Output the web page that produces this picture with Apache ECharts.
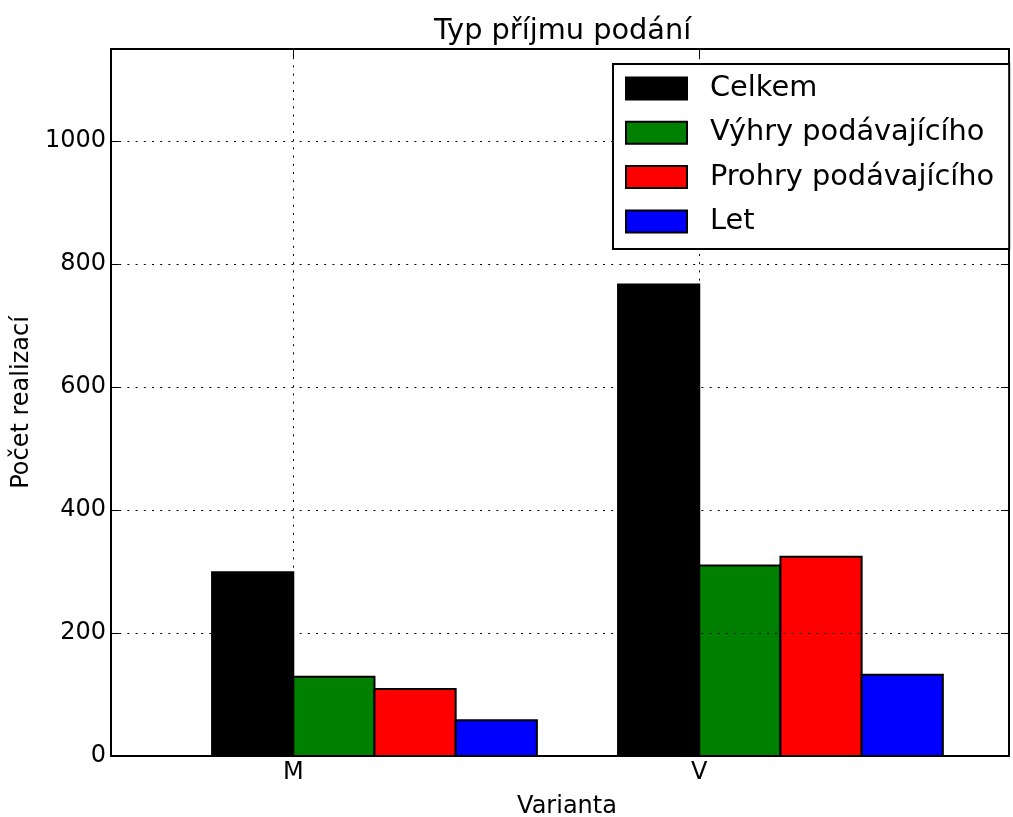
<!DOCTYPE html>
<html>
<head>
<meta charset="utf-8">
<title>Typ příjmu podání</title>
<script src="https://cdn.jsdelivr.net/npm/echarts@6/dist/echarts.min.js"></script>
<style>
  html, body { margin: 0; padding: 0; background: #fff; }
  #chart { width: 1013px; height: 817px; }
</style>
</head>
<body>
<div id="chart"></div>
<script>
// Categories along the x axis
const categories = ['M', 'V'];
// Series names, in legend order
const seriesNames = ['Celkem', 'Výhry podávajícího', 'Prohry podávajícího', 'Let'];
// Values per series, one entry per category
const celkem = [299, 767];
const vyhry = [129, 310];
const prohry = [109, 324];
const letValues = [58, 132];
// Y tick labels
const yTicks = [0, 200, 400, 600, 800, 1000];

const seriesValues = [celkem, vyhry, prohry, letValues];
const seriesColors = ['#000000', '#008000', '#ff0000', '#0000ff'];

const FONT = 'DejaVu Sans';
const BAR_W = 0.2;              // bar width in category units
const BAR_OFFSETS = [-0.2, 0, 0.2, 0.4]; // left edge of each bar relative to tick
const X_MIN = -0.449, X_MAX = 1.763;
const Y_MIN = 0, Y_MAX = 1150;

const chart = echarts.init(document.getElementById('chart'), null, { renderer: 'canvas' });

const catIndex = categories.map((c, i) => i);

function makeSeries(si) {
  return {
    type: 'custom',
    name: seriesNames[si],
    z: 2,
    itemStyle: { color: seriesColors[si], borderColor: '#000', borderWidth: 2 },
    data: seriesValues[si].map((v, i) => [catIndex[i], v]),
    encode: { x: 0, y: 1 },
    renderItem: function (params, api) {
      const x = api.value(0);
      const v = api.value(1);
      const pTop = api.coord([x + BAR_OFFSETS[si], v]);
      const pBot = api.coord([x + BAR_OFFSETS[si] + BAR_W, 0]);
      return {
        type: 'rect',
        shape: {
          x: pTop[0],
          y: pTop[1],
          width: pBot[0] - pTop[0],
          height: pBot[1] - pTop[1]
        },
        style: {
          fill: seriesColors[si],
          stroke: '#000',
          lineWidth: 2
        }
      };
    }
  };
}

const dotted = { color: '#000', width: 1, type: [2, 6.2] };
const axisLine = { show: true, onZero: false, lineStyle: { color: '#000', width: 2 } };
const tick = { show: true, inside: true, length: 8, lineStyle: { color: '#000', width: 1 } };

const option = {
  backgroundColor: '#ffffff',
  animation: false,
  title: {
    text: 'Typ příjmu podání',
    left: 434,
    top: 17,
    padding: 0,
    textStyle: { fontFamily: FONT, fontSize: 28.8, fontWeight: 'normal', color: '#000' }
  },
  grid: { left: 111, right: 4, top: 49, bottom: 61, containLabel: false, outerBoundsMode: 'none' },
  legend: {
    orient: 'vertical',
    left: 613,
    top: 64,
    z: 10,
    padding: [10, 15, 13, 12],
    itemWidth: 61,
    itemHeight: 22,
    itemGap: 15.3,
    icon: 'rect',
    borderColor: '#000',
    borderWidth: 2,
    borderRadius: 0,
    backgroundColor: '#fff',
    itemStyle: { borderColor: '#000', borderWidth: 2 },
    textStyle: { fontFamily: FONT, fontSize: 28.8, color: '#000', padding: [0, 0, 0, 18] },
    data: seriesNames
  },
  xAxis: [
    {
      type: 'value',
      position: 'bottom',
      min: X_MIN,
      max: X_MAX,
      z: 5,
      name: 'Varianta',
      nameLocation: 'middle',
      nameGap: 39,
      nameTextStyle: { fontFamily: FONT, fontSize: 24, color: '#000', padding: [0, 0, 0, 14] },
      axisLine: axisLine,
      axisTick: Object.assign({}, tick, { customValues: catIndex }),
      axisLabel: {
        customValues: catIndex,
        margin: 5,
        fontFamily: FONT, fontSize: 24, color: '#000',
        formatter: v => categories[Math.round(v)]
      },
      splitLine: { show: true, lineStyle: dotted }
    },
    {
      type: 'value',
      position: 'top',
      min: X_MIN,
      max: X_MAX,
      z: 5,
      axisLine: axisLine,
      axisTick: Object.assign({}, tick, { customValues: catIndex }),
      axisLabel: { show: false, customValues: catIndex },
      splitLine: { show: false }
    }
  ],
  yAxis: [
    {
      type: 'value',
      position: 'left',
      min: Y_MIN,
      max: Y_MAX,
      z: 5,
      name: 'Počet realizací',
      nameLocation: 'middle',
      nameGap: 62,
      nameTextStyle: { fontFamily: FONT, fontSize: 24, color: '#000' },
      axisLine: axisLine,
      axisTick: Object.assign({}, tick, { customValues: yTicks }),
      axisLabel: {
        customValues: yTicks,
        margin: 5,
        fontFamily: FONT, fontSize: 24, color: '#000',
        formatter: v => String(v)
      },
      splitLine: { show: true, lineStyle: dotted }
    },
    {
      type: 'value',
      position: 'right',
      min: Y_MIN,
      max: Y_MAX,
      z: 5,
      axisLine: axisLine,
      axisTick: Object.assign({}, tick, { customValues: yTicks }),
      axisLabel: { show: false, customValues: yTicks },
      splitLine: { show: false }
    }
  ],
  series: seriesNames.map((n, si) => makeSeries(si))
};

chart.setOption(option);
</script>
</body>
</html>
